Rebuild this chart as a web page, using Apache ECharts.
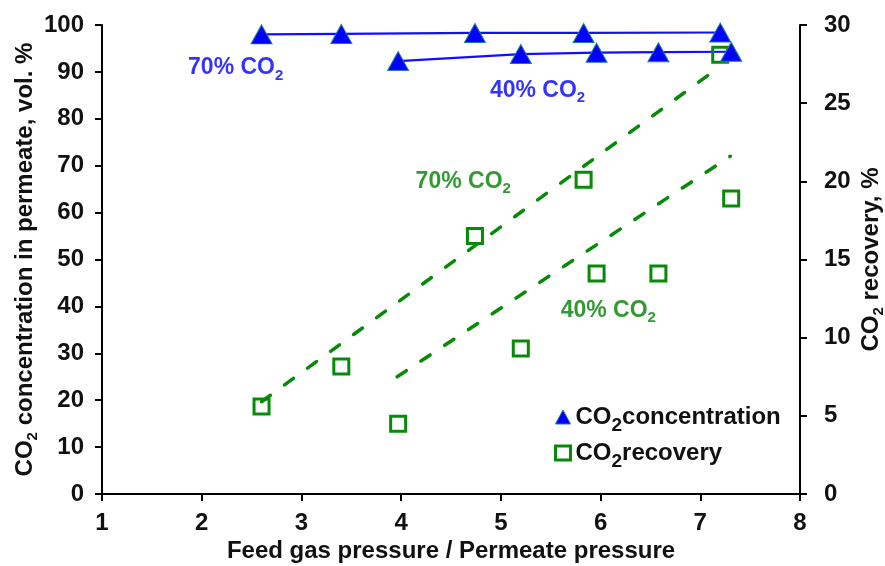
<!DOCTYPE html>
<html>
<head>
<meta charset="utf-8">
<script src="https://cdn.jsdelivr.net/npm/echarts@6/dist/echarts.min.js"></script>
<style>html,body{margin:0;padding:0;background:#fff}#c{width:885px;height:566px}</style>
</head>
<body>
<div id="c"></div>
<script>
// ---- data ----
const x70 = [2.60, 3.40, 4.74, 5.83, 7.20];
const conc70 = [98.0, 98.1, 98.3, 98.3, 98.4];
const rec70 = [5.6, 8.15, 16.5, 20.1, 28.1];
const x40 = [3.97, 5.20, 5.96, 6.58, 7.31];
const conc40 = [92.3, 93.8, 94.1, 94.2, 94.3];
const rec40 = [4.5, 9.3, 14.1, 14.1, 18.9];
const trendX70 = [2.60, 7.20];
const trend70 = [5.9, 27.35];
const trendX40 = [3.96, 7.30];
const trend40 = [7.5, 21.6];
const xTicks = [1, 2, 3, 4, 5, 6, 7, 8];
// annotation positions (x, left-axis value) and texts
const annX = [1.863, 4.89, 4.145, 5.60];
const annY = [90.8, 86.1, 66.6, 39.1];
const annText = ['70% CO', '40% CO', '70% CO', '40% CO'];
const annColor = ['#0000ff', '#0000ff', '#008000', '#008000'];

const BLUE = '#1010ff';
const GREEN = '#078a07';
const FONT = '"Liberation Sans", Arial, sans-serif';

function pairs(xs, ys) { return xs.map((x, i) => [x, ys[i]]); }

const annSeries = annX.map((x, i) => ({
  type: 'scatter', xAxisIndex: 0, yAxisIndex: 0, silent: true,
  symbolSize: 0, z: 10,
  data: [[x, annY[i]]],
  label: {
    show: true, position: 'right', distance: 0,
    formatter: '{n|' + annText[i] + '}{s|2}',
    rich: {
      n: { fontSize: 23, fontWeight: 'bold', color: annColor[i], fontFamily: FONT, lineHeight: 30 },
      s: { fontSize: 15, fontWeight: 'bold', color: annColor[i], fontFamily: FONT, lineHeight: 15, verticalAlign: 'bottom' }
    }
  }
}));

const chart = echarts.init(document.getElementById('c'), null, { renderer: 'canvas' });
chart.setOption({
  animation: false,
  backgroundColor: '#fff',
  textStyle: { fontFamily: FONT },
  grid: { left: 102, right: 85, top: 25, bottom: 72, outerBoundsMode: 'none', containLabel: false },
  legend: {
    orient: 'vertical', left: 554, top: 405, padding: 0, itemGap: 6,
    itemWidth: 15, itemHeight: 14,
    data: [
      { name: 'conc', icon: 'triangle', itemStyle: { color: '#0000ff', borderColor: '#1f7f8f', borderWidth: 1 } },
      { name: 'rec', icon: 'rect', itemStyle: { color: 'rgba(0,0,0,0)', borderColor: GREEN, borderWidth: 3 } }
    ],
    formatter: function (n) {
      return n === 'conc' ? '{n|CO}{s|2}{n|concentration}' : '{n|CO}{s|2}{n|recovery}';
    },
    textStyle: {
      rich: {
        n: { fontSize: 24, fontWeight: 'bold', color: '#111', fontFamily: FONT, lineHeight: 36 },
        s: { fontSize: 19, fontWeight: 'bold', color: '#111', fontFamily: FONT, lineHeight: 19, verticalAlign: 'bottom' }
      }
    }
  },
  xAxis: {
    type: 'value', min: 1, max: 8, interval: 1,
    axisLine: { show: true, onZero: false, lineStyle: { color: '#000', width: 2 } },
    axisTick: { show: true, length: 7, lineStyle: { color: '#000', width: 2 } },
    splitLine: { show: false },
    axisLabel: { margin: 17, fontSize: 24, fontWeight: 'bold', color: '#111', fontFamily: FONT,
      formatter: v => xTicks.indexOf(v) >= 0 ? String(v) : '' },
    name: 'Feed gas pressure / Permeate pressure',
    nameLocation: 'middle', nameGap: 45, nameMoveOverlap: false,
    nameTextStyle: { fontSize: 24, fontWeight: 'bold', color: '#111', fontFamily: FONT }
  },
  yAxis: [
    {
      type: 'value', min: 0, max: 100, interval: 10, position: 'left',
      axisLine: { show: true, lineStyle: { color: '#000', width: 2 } },
      axisTick: { show: true, length: 7, lineStyle: { color: '#000', width: 2 } },
      splitLine: { show: false },
      axisLabel: { margin: 18, fontSize: 24, fontWeight: 'bold', color: '#111', fontFamily: FONT },
      name: '{n|CO}{s|2}{n| concentration in permeate, vol. %}',
      nameLocation: 'middle', nameGap: 62, nameMoveOverlap: false,
      nameTextStyle: {
        rich: {
          n: { fontSize: 24, fontWeight: 'bold', color: '#111', fontFamily: FONT, lineHeight: 30 },
          s: { fontSize: 15, fontWeight: 'bold', color: '#111', fontFamily: FONT, lineHeight: 15, verticalAlign: 'bottom' }
        }
      }
    },
    {
      type: 'value', min: 0, max: 30, interval: 5, position: 'right',
      axisLine: { show: true, lineStyle: { color: '#000', width: 2 } },
      axisTick: { show: true, length: 7, lineStyle: { color: '#000', width: 2 } },
      splitLine: { show: false },
      axisLabel: { margin: 24, fontSize: 24, fontWeight: 'bold', color: '#111', fontFamily: FONT },
      name: '{n|CO}{s|2}{n| recovery, %}',
      nameLocation: 'middle', nameGap: 56, nameMoveOverlap: false,
      nameTextStyle: {
        rich: {
          n: { fontSize: 24, fontWeight: 'bold', color: '#111', fontFamily: FONT, lineHeight: 30 },
          s: { fontSize: 15, fontWeight: 'bold', color: '#111', fontFamily: FONT, lineHeight: 15, verticalAlign: 'bottom' }
        }
      }
    }
  ],
  series: [
    { type: 'line', yAxisIndex: 1, data: pairs(trendX70, trend70), showSymbol: false, silent: true,
      lineStyle: { color: GREEN, width: 3.5, type: [11, 17.5], cap: 'round' }, z: 2 },
    { type: 'line', yAxisIndex: 1, data: pairs(trendX40, trend40), showSymbol: false, silent: true,
      lineStyle: { color: GREEN, width: 3.5, type: [11, 17.5], cap: 'round' }, z: 2 },
    { type: 'line', yAxisIndex: 0, data: pairs(x70, conc70), showSymbol: false, silent: true,
      lineStyle: { color: BLUE, width: 2.2 }, z: 3 },
    { type: 'line', yAxisIndex: 0, data: pairs(x40, conc40), showSymbol: false, silent: true,
      lineStyle: { color: BLUE, width: 2.2 }, z: 3 },
    { name: 'rec', type: 'scatter', yAxisIndex: 1, data: pairs(x70, rec70), symbol: 'rect', symbolSize: 15,
      itemStyle: { color: 'rgba(0,0,0,0)', borderColor: GREEN, borderWidth: 3, opacity: 1 }, z: 4 },
    { name: 'rec', type: 'scatter', yAxisIndex: 1, data: pairs(x40, rec40), symbol: 'rect', symbolSize: 15,
      itemStyle: { color: 'rgba(0,0,0,0)', borderColor: GREEN, borderWidth: 3, opacity: 1 }, z: 4 },
    { name: 'conc', type: 'scatter', yAxisIndex: 0, data: pairs(x70, conc70), symbol: 'triangle', symbolSize: [21, 19],
      itemStyle: { color: '#0000ff', borderColor: '#1f7f8f', borderWidth: 1, opacity: 1 }, z: 5 },
    { name: 'conc', type: 'scatter', yAxisIndex: 0, data: pairs(x40, conc40), symbol: 'triangle', symbolSize: [21, 19],
      itemStyle: { color: '#0000ff', borderColor: '#1f7f8f', borderWidth: 1, opacity: 1 }, z: 5 }
  ].concat(annSeries)
});
</script>
</body>
</html>
